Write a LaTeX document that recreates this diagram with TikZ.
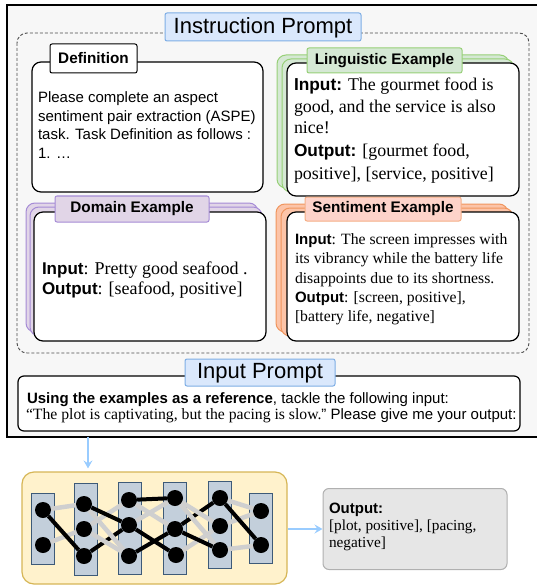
\documentclass[tikz,border=0pt]{standalone}
\usepackage{fontspec}
\setmainfont{Liberation Serif}
\setsansfont{Liberation Sans}
\usetikzlibrary{arrows.meta}
\definecolor{bgc}{HTML}{F7F7F7}
\definecolor{bluef}{HTML}{DAE8FC}
\definecolor{blued}{HTML}{7EAEE5}
\definecolor{greenf}{HTML}{D5E8D4}
\definecolor{greend}{HTML}{97D077}
\definecolor{purplef}{HTML}{E1D5E7}
\definecolor{purpled}{HTML}{A58BD6}
\definecolor{orangef}{HTML}{FDD3CA}
\definecolor{oranged}{HTML}{F5AF86}
\definecolor{orangel}{HTML}{FCC4A8}
\definecolor{orangeld}{HTML}{F0955E}
\definecolor{yellowf}{HTML}{FFF2CC}
\definecolor{yellowd}{HTML}{D6B656}
\definecolor{colf}{HTML}{C3CFDB}
\definecolor{cold}{HTML}{3D5A78}
\definecolor{greyedge}{HTML}{CFCFCF}
\definecolor{outf}{HTML}{E6E6E6}
\definecolor{outd}{HTML}{B0B0B0}
\definecolor{arrc}{HTML}{99CCFF}
\newcommand\fsz[1]{\fontsize{#1}{#1}\selectfont}
\begin{document}
\begin{tikzpicture}[x=1pt,y=-1pt,
  txt/.style={anchor=base west, inner sep=0pt, outer sep=0pt},
  tabbox/.style={rounded corners=2pt, line width=1pt},
  mainbox/.style={rounded corners=9pt, fill=white, draw=black, line width=1.2pt},
  layer/.style={rounded corners=9pt, line width=1pt},
  colbox/.style={draw=cold, fill=colf, line width=0.9pt, inner sep=0pt, minimum width=23pt},
  neuron/.style={circle, fill=black, inner sep=0pt, minimum size=16pt},
  bedge/.style={line width=4pt, black},
  gedge/.style={line width=4.5pt, greyedge},
  arr/.style={arrc, line width=1.3pt, -{Stealth[length=8pt,width=9pt,inset=3pt]}},
  tabtxt/.style={font=\sffamily\bfseries\fsz{15.3}, inner sep=0pt}
]
\useasboundingbox (0,0) rectangle (536,585);

% outer frame
\fill[bgc] (7,5) rectangle (545,437);
\draw[line width=1.6pt] (7,5) rectangle (545,437);

% dashed instruction area
\draw[dash pattern=on 3pt off 2pt, draw=black!70, line width=0.9pt, rounded corners=10pt] (17,33) rectangle (529,353);

% Instruction Prompt tab
\draw[tabbox, fill=bluef, draw=blued] (165,13) rectangle (361,41);
\node[font=\sffamily\fsz{22}, inner sep=0pt] (instr) at (263,27.5) {Instruction Prompt};

% Definition
\draw[mainbox] (32,62) rectangle (263,192);
\draw[tabbox, fill=white, draw=black] (50,44) rectangle (137,73);
\node[tabtxt] (deft) at (93.5,58.5) {Definition};
\node[txt, font=\sffamily\fsz{15}] (def1) at (38,103) {Please complete an aspect};
\node[txt, font=\sffamily\fsz{15}] (def2) at (38,121.5) {sentiment pair extraction (ASPE)};
\node[txt, font=\sffamily\fsz{15}] (def3) at (38,140) {task. Task Definition as follows :};
\node[txt, font=\sffamily\fsz{15}] (def4) at (38,158.5) {1. …};

% Linguistic Example
\draw[layer, fill=greenf, draw=greend] (277,55) rectangle (509,188);
\draw[layer, fill=greenf, draw=greend] (282,59) rectangle (514,192);
\draw[mainbox] (287,63) rectangle (519,196);
\draw[tabbox, fill=greenf, draw=greend] (307,48) rectangle (462,73);
\node[tabtxt] (lingt) at (384.5,60.5) {Linguistic Example};
\node[txt, font=\fsz{17.9}] (l1) at (294,91) {{\sffamily\bfseries\fsz{17.3}Input:} The gourmet food is};
\node[txt, font=\fsz{17.9}] (l2) at (294,113) {good, and the service is also};
\node[txt, font=\fsz{17.9}] (l3) at (294,134) {nice!};
\node[txt, font=\fsz{17.9}] (l4) at (294,157) {{\sffamily\bfseries\fsz{17.3}Output:} [gourmet food,};
\node[txt, font=\fsz{17.9}] (l5) at (294,179) {positive], [service, positive]};

% Domain Example
\draw[layer, fill=purplef, draw=purpled] (26,203) rectangle (258,332);
\draw[layer, fill=purplef, draw=purpled] (30,207) rectangle (262,336);
\draw[mainbox] (34,212) rectangle (266,341);
\draw[tabbox, fill=purplef, draw=purpled] (55,196) rectangle (209,222);
\node[tabtxt] (domt) at (132,209) {Domain Example};
\node[txt, font=\fsz{18}] (dm1) at (42,274) {{\sffamily\bfseries\fsz{17}Input}: Pretty good seafood .};
\node[txt, font=\fsz{18}] (dm2) at (42,294) {{\sffamily\bfseries\fsz{17}Output}: [seafood, positive]};

% Sentiment Example
\draw[layer, fill=orangel, draw=orangeld] (276,204) rectangle (508,332);
\draw[layer, fill=orangel, draw=orangeld] (281,208) rectangle (513,336);
\draw[mainbox] (287,212) rectangle (519,341);
\draw[tabbox, fill=orangef, draw=oranged] (305,197) rectangle (461,221);
\node[tabtxt] (sent) at (383,209) {Sentiment Example};
\node[txt, font=\fsz{15.7}] (s1) at (295,244) {{\sffamily\bfseries\fsz{15}Input}: The screen impresses with};
\node[txt, font=\fsz{15.7}] (s2) at (295,263) {its vibrancy while the battery life};
\node[txt, font=\fsz{15.7}] (s3) at (295,283) {disappoints due to its shortness.};
\node[txt, font=\fsz{15.7}] (s4) at (295,302.5) {{\sffamily\bfseries\fsz{15}Output}: [screen, positive],};
\node[txt, font=\fsz{15.7}] (s5) at (295,321.5) {[battery life, negative]};

% Input Prompt
\draw[rounded corners=6pt, fill=white, draw=black, line width=1.2pt] (18,376) rectangle (520,431);
\draw[tabbox, fill=bluef, draw=blued] (185,359) rectangle (335,386);
\node[font=\sffamily\fsz{22}, inner sep=0pt] (inpt) at (260,373) {Input Prompt};
\node[txt, font=\sffamily\fsz{15}] (ip1) at (27,403.5) {\textbf{Using the examples as a reference}, tackle the following input:};
\node[txt, font=\fsz{15.7}] (ip2) at (26,419.5) {“The plot is captivating, but the pacing is slow.{\sffamily\fsz{15}" Please give me your output:}};

% LLM box
\node[draw=yellowd, fill=yellowf, line width=1.2pt, rounded corners=12pt, minimum width=265pt, minimum height=112pt, inner sep=0pt] (llm) at (154.5,528) {};
\coordinate (frb) at (88,437);
\draw[arr, shorten >=3pt] (frb) -- (frb |- llm.north);

% columns
\node[colbox, minimum height=71pt] (col1) at (42.5,528.5) {};
\node[colbox, minimum height=92pt] (col2) at (85.5,529) {};
\node[colbox, minimum height=92pt] (col3) at (129.5,528) {};
\node[colbox, minimum height=92pt] (col4) at (174.5,528) {};
\node[colbox, minimum height=87pt] (col5) at (219.5,524.5) {};
\node[colbox, minimum height=70pt] (col6) at (261,528) {};

% neurons
\node[neuron] (a1) at (43,510) {};
\node[neuron] (a2) at (43,545) {};
\node[neuron] (b1) at (84,504) {};
\node[neuron] (b2) at (84,529) {};
\node[neuron] (b3) at (84,556) {};
\node[neuron] (c1) at (129,500) {};
\node[neuron] (c2) at (129,525) {};
\node[neuron] (c3) at (129,556) {};
\node[neuron] (d1) at (175,498) {};
\node[neuron] (d2) at (175,529) {};
\node[neuron] (d3) at (176,555) {};
\node[neuron] (e1) at (220,498) {};
\node[neuron] (e2) at (220,526) {};
\node[neuron] (e3) at (220,550) {};
\node[neuron] (f1) at (261,511) {};
\node[neuron] (f2) at (261,545) {};

% edges: black under grey
\draw[bedge] (b3) -- (c2);
\draw[bedge] (d2) -- (e1);
% grey edges
\draw[gedge] (a1) -- (b1);
\draw[gedge] (a2) -- (b2);
\draw[gedge] (b1) -- (c3);
\draw[gedge] (b2) -- (c1);
\draw[gedge] (b2) -- (c3);
\draw[gedge] (c1) -- (d2);
\draw[gedge] (c2) -- (d1);
\draw[gedge] (d1) -- (e2);
\draw[gedge] (d1) -- (e3);
\draw[gedge] (d3) -- (e2);
\draw[gedge] (e1) -- (f1);
\draw[gedge] (e2) -- (f1);
\draw[gedge] (e3) -- (f2);
% black edges on top
\draw[bedge] (a1) -- (b3);
\draw[bedge] (b1) -- (c2);
\draw[bedge] (c1) -- (d1);
\draw[bedge] (c2) -- (d3);
\draw[bedge] (c3) -- (d2);
\draw[bedge] (d2) -- (e3);
\draw[bedge] (e1) -- (f2);

% output box
\node[draw=outd, fill=outf, line width=1pt, rounded corners=6pt, minimum width=184pt, minimum height=81pt, inner sep=0pt] (outbox) at (415,529) {};
\draw[arr] (llm.east |- outbox.west) -- (outbox.west);
\node[txt, font=\sffamily\bfseries\fsz{15}] (o1) at (329,513) {Output:};
\node[txt, font=\fsz{15.3}] (o2) at (329,530.5) {[plot, positive], [pacing,};
\node[txt, font=\fsz{15.3}] (o3) at (329,547) {negative]};
\end{tikzpicture}
\end{document}
